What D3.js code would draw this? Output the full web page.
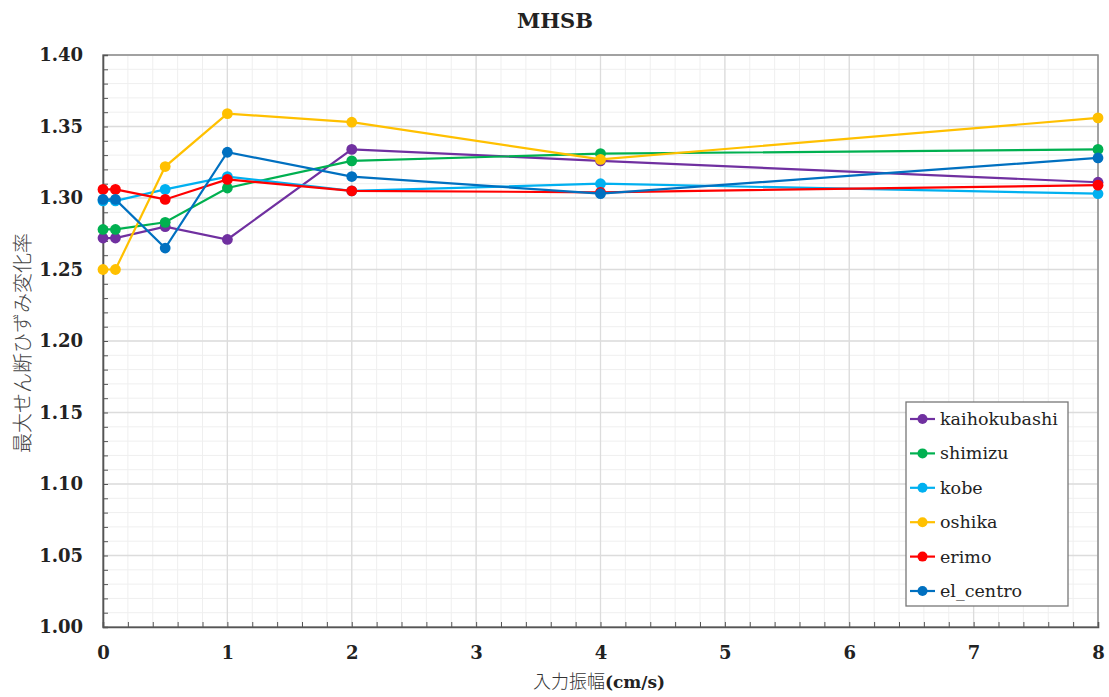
<!DOCTYPE html>
<html>
<head>
<meta charset="utf-8">
<script src="https://cdn.jsdelivr.net/npm/d3@7"></script>
<style>
  html, body { margin: 0; padding: 0; background: #fff; }
  svg { display: block; }
</style>
</head>
<body>
<svg id="chart" width="1109" height="697"></svg>
<script>
// Input amplitude (cm/s) at which each record was run
const amplitudes = [0, 0.1, 0.5, 1, 2, 4, 8];

// Ratio of change of maximum shear strain, one array per ground motion
const kaihokubashi = [1.272, 1.272, 1.280, 1.271, 1.334, 1.326, 1.311];
const shimizu      = [1.278, 1.278, 1.283, 1.307, 1.326, 1.331, 1.334];
const kobe         = [1.298, 1.298, 1.306, 1.315, 1.305, 1.310, 1.303];
const oshika       = [1.250, 1.250, 1.322, 1.359, 1.353, 1.327, 1.356];
const erimo        = [1.306, 1.306, 1.299, 1.313, 1.305, 1.304, 1.309];
const el_centro    = [1.299, 1.299, 1.265, 1.332, 1.315, 1.303, 1.328];

const seriesNames  = ["kaihokubashi", "shimizu", "kobe", "oshika", "erimo", "el_centro"];
const seriesValues = [kaihokubashi, shimizu, kobe, oshika, erimo, el_centro];
const seriesColors = ["#7030A0", "#00B050", "#00B0F0", "#FFC000", "#FF0000", "#0070C0"];

const xTicks = [0, 1, 2, 3, 4, 5, 6, 7, 8];
const yTicks = [1.00, 1.05, 1.10, 1.15, 1.20, 1.25, 1.30, 1.35, 1.40];

const titleText = "MHSB";
const xLabelMain = "入力振幅";
const xLabelUnit = "(cm/s)";
const yLabel = "最大せん断ひずみ変化率";

const svg = d3.select("#chart");
const margin = { left: 103, right: 11, top: 55, bottom: 70 };
const W = 1109, H = 697;
const iw = W - margin.left - margin.right;
const ih = H - margin.top - margin.bottom;

const x = d3.scaleLinear().domain([0, 8]).range([0, iw]);
const y = d3.scaleLinear().domain([1.0, 1.4]).range([ih, 0]);

const g = svg.append("g").attr("transform", `translate(${margin.left},${margin.top})`);

// minor grid
const xMinor = d3.range(0, 8.0001, 0.2).map(v => +v.toFixed(2));
const yMinor = d3.range(1.0, 1.40001, 0.01).map(v => +v.toFixed(2));
g.append("g").selectAll("line").data(xMinor).join("line")
  .attr("x1", d => x(d)).attr("x2", d => x(d)).attr("y1", 0).attr("y2", ih)
  .attr("stroke", "#efefef").attr("stroke-width", 1);
g.append("g").selectAll("line").data(yMinor).join("line")
  .attr("y1", d => y(d)).attr("y2", d => y(d)).attr("x1", 0).attr("x2", iw)
  .attr("stroke", "#efefef").attr("stroke-width", 1);

// major grid
g.append("g").selectAll("line").data(xTicks).join("line")
  .attr("x1", d => x(d)).attr("x2", d => x(d)).attr("y1", 0).attr("y2", ih)
  .attr("stroke", "#dcdcdc").attr("stroke-width", 1.3);
g.append("g").selectAll("line").data(yTicks).join("line")
  .attr("y1", d => y(d)).attr("y2", d => y(d)).attr("x1", 0).attr("x2", iw)
  .attr("stroke", "#dcdcdc").attr("stroke-width", 1.3);

// frame
g.append("rect").attr("x", 0).attr("y", 0).attr("width", iw).attr("height", ih)
  .attr("fill", "none").attr("stroke", "#8c8c8c").attr("stroke-width", 1.5);

// axes with inward ticks
const tickFont = "'DejaVu Serif', serif";
const xAxisMinor = g.append("g").attr("transform", `translate(0,${ih})`)
  .call(d3.axisBottom(x).tickValues(xMinor).tickSize(-5).tickFormat(""));
const yAxisMinor = g.append("g")
  .call(d3.axisLeft(y).tickValues(yMinor).tickSize(-5).tickFormat(""));
[xAxisMinor, yAxisMinor].forEach(a => {
  a.select(".domain").attr("stroke", "#555").attr("stroke-width", 1.6);
  a.selectAll(".tick line").attr("stroke", "#555").attr("stroke-width", 1);
});

const xAxis = g.append("g").attr("transform", `translate(0,${ih})`)
  .call(d3.axisBottom(x).tickValues(xTicks).tickSize(0).tickPadding(19).tickFormat(d3.format("d")));
const yAxis = g.append("g")
  .call(d3.axisLeft(y).tickValues(yTicks).tickSize(0).tickPadding(20).tickFormat(d3.format(".2f")));
[xAxis, yAxis].forEach(a => {
  a.select(".domain").remove();
  a.selectAll("text").attr("font-family", tickFont).attr("font-size", 18)
    .attr("font-weight", "bold").attr("fill", "#222");
});

// series lines and markers
const line = d3.line().x((d, i) => x(amplitudes[i])).y(d => y(d));
seriesValues.forEach((vals, k) => {
  const sg = g.append("g");
  sg.append("path").datum(vals).attr("d", line)
    .attr("fill", "none").attr("stroke", seriesColors[k]).attr("stroke-width", 2.2);
  sg.selectAll("circle").data(vals).join("circle")
    .attr("cx", (d, i) => x(amplitudes[i])).attr("cy", d => y(d)).attr("r", 5.4)
    .attr("fill", seriesColors[k]);
});

// title
svg.append("text").attr("x", 555).attr("y", 28).attr("text-anchor", "middle")
  .attr("font-family", tickFont).attr("font-size", 21).attr("font-weight", "bold")
  .attr("fill", "#222").text(titleText);

// axis labels
const cjkFont = "'Noto Sans CJK JP', 'DejaVu Serif', sans-serif";
const xl = svg.append("text").attr("x", 599).attr("y", 688).attr("text-anchor", "middle")
  .attr("fill", "#333");
xl.append("tspan").attr("font-family", cjkFont).attr("font-size", 18).attr("font-weight", 300)
  .text(xLabelMain);
xl.append("tspan").attr("font-family", tickFont).attr("font-size", 17).attr("font-weight", "bold")
  .attr("fill", "#222").text(xLabelUnit);
svg.append("text")
  .attr("transform", `translate(30,${margin.top + ih / 2 + 2}) rotate(-90)`)
  .attr("text-anchor", "middle").attr("font-family", cjkFont).attr("font-size", 20)
  .attr("font-weight", 300).attr("fill", "#444").text(yLabel);

// legend
const lg = svg.append("g").attr("transform", "translate(906,402)");
lg.append("rect").attr("width", 162).attr("height", 204)
  .attr("fill", "#fff").attr("stroke", "#777").attr("stroke-width", 1.3);
seriesNames.forEach((name, k) => {
  const yy = 17 + k * 34.4;
  lg.append("line").attr("x1", 4).attr("x2", 29).attr("y1", yy).attr("y2", yy)
    .attr("stroke", seriesColors[k]).attr("stroke-width", 2.2);
  lg.append("circle").attr("cx", 16.5).attr("cy", yy).attr("r", 5).attr("fill", seriesColors[k]);
  lg.append("text").attr("x", 34).attr("y", yy + 6).attr("font-family", tickFont)
    .attr("font-size", 17.5).attr("fill", "#222").text(name);
});
</script>
</body>
</html>
